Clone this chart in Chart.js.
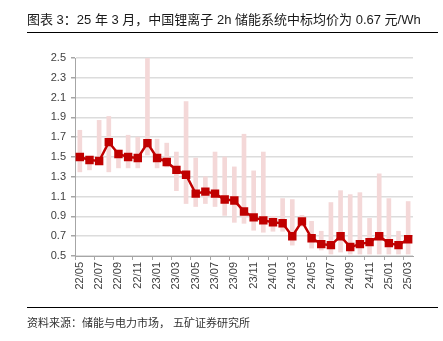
<!DOCTYPE html>
<html>
<head>
<meta charset="utf-8">
<script src="https://cdn.jsdelivr.net/npm/chart.js@4/dist/chart.umd.min.js"></script>
<style>
  html, body { margin: 0; padding: 0; background: #fff; }
  #wrap { position: relative; width: 443px; height: 341px; overflow: hidden; }
  #chart-box { position: absolute; left: 0; top: 0; width: 443px; height: 341px; }
  .title {
    position: absolute; left: 27px; top: 9px; margin: 0;
    font: 13px "Liberation Sans", "Noto Sans CJK SC", sans-serif; color: #1a1a1a; white-space: nowrap;
  }
  .rule { position: absolute; left: 27px; width: 411px; height: 0; border-top: 1.5px solid #000; }
  .source {
    position: absolute; left: 27px; top: 314px; margin: 0;
    font: 11px "Liberation Sans", "Noto Sans CJK SC", sans-serif; color: #333; white-space: nowrap;
  }
</style>
</head>
<body>
<div id="wrap">
  <div id="chart-box"><canvas id="price-chart"></canvas></div>
  <p class="title">图表 3：25 年 3 月，中国锂离子 2h 储能系统中标均价为 0.67 元/Wh</p>
  <div class="rule" style="top: 32px;"></div>
  <div class="rule" style="top: 307px;"></div>
  <p class="source">资料来源：储能与电力市场， 五矿证券研究所</p>
</div>

<script>
// monthly, 22/05 .. 25/03
const months = [
  '22/05', '22/06', '22/07', '22/08', '22/09', '22/10', '22/11', '22/12',
  '23/01', '23/02', '23/03', '23/04', '23/05', '23/06', '23/07', '23/08',
  '23/09', '23/10', '23/11', '23/12', '24/01', '24/02', '24/03', '24/04',
  '24/05', '24/06', '24/07', '24/08', '24/09', '24/10', '24/11', '24/12',
  '25/01', '25/02', '25/03'
];

// average winning bid price, 元/Wh
const avgPrice = [
  1.50, 1.47, 1.46, 1.65, 1.53, 1.50, 1.49, 1.64,
  1.49, 1.45, 1.37, 1.32, 1.13, 1.15, 1.13, 1.07,
  1.06, 0.95, 0.89, 0.86, 0.84, 0.83, 0.70, 0.85,
  0.68, 0.62, 0.61, 0.70, 0.59, 0.62, 0.64, 0.70,
  0.63, 0.61, 0.67
];

// lowest / highest bids of each month
const lowPrice = [
  1.35, 1.37, 1.44, 1.35, 1.39, 1.39, 1.39, 1.52,
  1.39, 1.40, 1.16, 1.03, 1.00, 1.03, 1.00, 0.91,
  0.84, 0.83, 0.76, 0.74, 0.75, 0.75, 0.61, 0.80,
  0.58, 0.56, 0.52, 0.54, 0.52, 0.52, 0.52, 0.52,
  0.52, 0.52, 0.52
];
const highPrice = [
  1.77, 1.50, 1.87, 1.91, 1.57, 1.72, 1.70, 2.50,
  1.68, 1.64, 1.55, 2.06, 1.49, 1.30, 1.55, 1.50,
  1.40, 1.73, 1.36, 1.55, 0.90, 1.08, 1.07, 0.91,
  0.85, 0.75, 1.04, 1.16, 1.12, 1.14, 0.88, 1.33,
  1.08, 0.75, 1.05
];

const yTicks = { min: 0.5, max: 2.5, step: 0.2 };

const tickFont = { family: '"Liberation Sans", "DejaVu Sans", sans-serif', size: 11 };
const axisGray = '#a6a6a6';

new Chart(document.getElementById('price-chart'), {
  data: {
    labels: months,
    datasets: [
      {
        type: 'line',
        label: '均价',
        data: avgPrice,
        borderColor: '#c00000',
        backgroundColor: '#c00000',
        borderWidth: 2.5,
        pointStyle: 'rect',
        pointRadius: 4.2,
        pointHoverRadius: 4.2,
        tension: 0,
        order: 0
      },
      {
        type: 'bar',
        label: '区间',
        data: lowPrice.map((v, i) => [v, highPrice[i]]),
        backgroundColor: '#f4d8d8',
        borderWidth: 0,
        barThickness: 4,
        order: 1
      }
    ]
  },
  options: {
    responsive: true,
    maintainAspectRatio: false,
    animation: false,
    layout: { padding: { left: 0, right: 30, top: 58, bottom: 0 } },
    plugins: {
      legend: { display: false },
      tooltip: { enabled: false }
    },
    scales: {
      x: {
        offset: true,
        afterFit: (scale) => { scale.height = 85; },
        border: { display: true, color: axisGray, width: 1 },
        grid: {
          offset: true,
          drawOnChartArea: false,
          drawTicks: true,
          tickLength: 4,
          color: (ctx) => (ctx.index % 2 === 0 ? axisGray : 'rgba(0,0,0,0)')
        },
        ticks: {
          autoSkip: false,
          minRotation: 90,
          maxRotation: 90,
          padding: 2,
          color: '#404040',
          font: tickFont,
          callback: function (value, index) {
            return index % 2 === 0 ? this.getLabelForValue(value) : '';
          }
        }
      },
      y: {
        min: yTicks.min,
        max: yTicks.max,
        afterFit: (scale) => { scale.width = 75; },
        border: { display: true, color: axisGray, width: 1 },
        grid: {
          color: '#dcdcdc',
          lineWidth: 1.5,
          tickLength: 4,
          tickColor: axisGray
        },
        ticks: {
          stepSize: yTicks.step,
          padding: 5,
          color: '#404040',
          font: tickFont,
          callback: (v) => v.toFixed(1)
        }
      }
    }
  }
});
</script>
</body>
</html>
